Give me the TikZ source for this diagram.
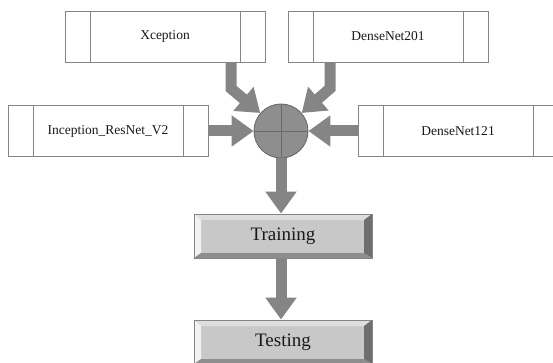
\documentclass[tikz,border=0pt]{standalone}
\usepackage{fontspec}
\setmainfont{Liberation Serif}
\usepackage{xcolor}
\usetikzlibrary{arrows.meta}
\definecolor{boxgray}{HTML}{858585}
\definecolor{arrowgray}{HTML}{858585}
\definecolor{sumgray}{HTML}{8E8E8E}
\definecolor{crossgray}{HTML}{6A6A6A}
\definecolor{facegray}{HTML}{C8C8C8}
\definecolor{lightbevel}{HTML}{DEDEDE}
\definecolor{whitebevel}{HTML}{F2F2F2}
\definecolor{darkbevel}{HTML}{6E6E6E}
\definecolor{lowbevel}{HTML}{8E8E8E}

\begin{document}
\begin{tikzpicture}[
  x=1pt, y=-1pt,
  line width=0.9pt,
  net/.style={rectangle, draw=boxgray, fill=white, minimum width=200pt, minimum height=51pt, inner sep=0pt,
    font=\fontsize{13.5pt}{15pt}\selectfont, text=black!90,
    path picture={
      \draw[boxgray] ([xshift=25pt]path picture bounding box.north west) -- ([xshift=25pt]path picture bounding box.south west);
      \draw[boxgray] ([xshift=-25pt]path picture bounding box.north east) -- ([xshift=-25pt]path picture bounding box.south east);
    }},
  button/.style={rectangle, draw=boxgray, fill=facegray, minimum width=178pt, minimum height=44pt, inner sep=0pt,
    font=\fontsize{19pt}{21pt}\selectfont, text=black!90,
    path picture={
      \coordinate (nw) at (path picture bounding box.north west);
      \coordinate (ne) at (path picture bounding box.north east);
      \coordinate (sw) at (path picture bounding box.south west);
      \coordinate (se) at (path picture bounding box.south east);
      \fill[lightbevel] (nw) -- (ne) -- ([shift={(-8pt,-6pt)}]ne) -- ([shift={(7pt,-6pt)}]nw) -- cycle;
      \fill[whitebevel] (nw) -- ([shift={(7pt,-6pt)}]nw) -- ([shift={(7pt,5pt)}]sw) -- (sw) -- cycle;
      \fill[darkbevel] (ne) -- (se) -- ([shift={(-8pt,5pt)}]se) -- ([shift={(-8pt,-6pt)}]ne) -- cycle;
      \fill[lowbevel] (sw) -- ([shift={(7pt,5pt)}]sw) -- ([shift={(-8pt,5pt)}]se) -- (se) -- cycle;
    }},
  sum/.style={circle, draw=crossgray, fill=sumgray, minimum size=54pt, inner sep=0pt},
  flow/.style={draw=arrowgray, line width=11pt, -{Triangle[width=30pt,length=22pt]}}
]
  \clip (0,0) rectangle (553,363);
  \useasboundingbox (0,0) rectangle (553,363);

  \node[net] (xcep) at (165,36.5) {Xception};
  \node[net] (dn201) at (388,36.5) {DenseNet201};
  \node[net] (incres) at (108,131) {Inception\_ResNet\_V2};
  \node[net] (dn121) at (458,131) {DenseNet121};

  \node[sum] (sum) at (281,131) {};
  \draw[crossgray] (sum.north) -- (sum.south);
  \draw[crossgray] (sum.west) -- (sum.east);

  \node[button] (train) at (283,236) {Training};
  \node[button] (test) at (283,342) {Testing};

  \draw[flow] ([xshift=66pt]xcep.south) -- ++(0,26) -- (sum.139);
  \draw[flow] ([xshift=-58pt]dn201.south) -- ++(0,26) -- (sum.41);
  \draw[flow] (incres.east) -- (sum.west);
  \draw[flow] (dn121.west) -- (sum.east);
  \draw[flow] (sum.south) -- (sum.south |- train.north);
  \draw[flow] (sum.south |- train.south) -- (sum.south |- test.north);
\end{tikzpicture}
\end{document}
